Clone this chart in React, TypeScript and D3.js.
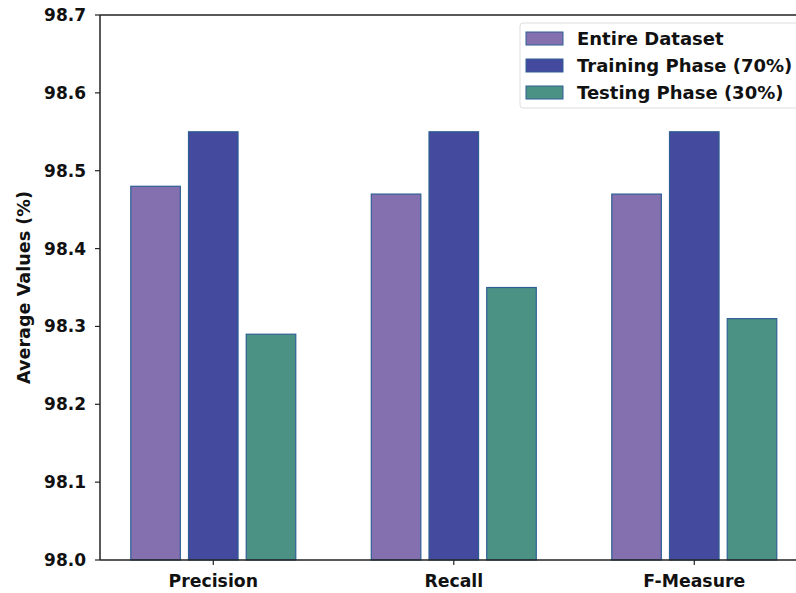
import React from "react";
import * as d3 from "d3";

const categories = ["Precision", "Recall", "F-Measure"];
const seriesNames = ["Entire Dataset", "Training Phase (70%)", "Testing Phase (30%)"];
const entireDataset = [98.48, 98.47, 98.47];
const trainingPhase = [98.55, 98.55, 98.55];
const testingPhase = [98.29, 98.35, 98.31];
const yTicks = [98.0, 98.1, 98.2, 98.3, 98.4, 98.5, 98.6, 98.7];

const colors = ["#8470AF", "#444A9E", "#4C9284"];
const edgeColor = "#2E5F94";

const W = 796;
const H = 593;
const left = 100;
const top = 15;
const bottom = 560;
const font = "'DejaVu Sans', sans-serif";

export default function App() {
  const series = [entireDataset, trainingPhase, testingPhase];
  const x = d3.scaleLinear().domain([-0.471, 2.477]).range([left, 809]);
  const y = d3.scaleLinear().domain([98.0, 98.7]).range([bottom, top]);
  const barWidth = 0.206;
  const offset = 0.24;

  return (
    <svg
      width={W}
      height={H}
      style={{ position: "absolute", left: 0, top: 0, background: "#fff" }}
      fontFamily={font}
    >
      {/* bars */}
      {series.map((vals, s) =>
        vals.map((v, i) => {
          const cx = i + (s - 1) * offset;
          const x0 = x(cx - barWidth / 2);
          const x1 = x(cx + barWidth / 2);
          return (
            <rect
              key={`${s}-${i}`}
              x={x0}
              y={y(v)}
              width={x1 - x0}
              height={bottom - y(v)}
              fill={colors[s]}
              stroke={edgeColor}
              strokeWidth={1.2}
            />
          );
        })
      )}

      {/* axes frame */}
      <line x1={left} x2={W + 20} y1={top} y2={top} stroke="#222" strokeWidth={1.5} />
      <line x1={left} x2={W + 20} y1={bottom} y2={bottom} stroke="#222" strokeWidth={1.5} />
      <line x1={left} x2={left} y1={top} y2={bottom} stroke="#222" strokeWidth={1.5} />

      {/* y ticks */}
      {yTicks.map((t) => (
        <g key={t}>
          <line x1={left - 5} x2={left} y1={y(t)} y2={y(t)} stroke="#222" strokeWidth={1.2} />
          <text
            x={left - 14}
            y={y(t)}
            textAnchor="end"
            dominantBaseline="central"
            fontSize={17}
            fontWeight="bold"
            fill="#111"
          >
            {t.toFixed(1)}
          </text>
        </g>
      ))}

      {/* x ticks */}
      {categories.map((c, i) => (
        <g key={c}>
          <line x1={x(i)} x2={x(i)} y1={bottom} y2={bottom + 5} stroke="#222" strokeWidth={1.2} />
          <text
            x={x(i)}
            y={bottom + 27}
            textAnchor="middle"
            fontSize={17.3}
            fontWeight="bold"
            fill="#111"
          >
            {c}
          </text>
        </g>
      ))}

      {/* y axis label */}
      <text
        transform={`translate(30, ${(top + bottom) / 2}) rotate(-90)`}
        textAnchor="middle"
        fontSize={17.6}
        fontWeight="bold"
        fill="#111"
      >
        Average Values (%)
      </text>

      {/* legend */}
      <rect
        x={520}
        y={23}
        width={300}
        height={85}
        rx={3}
        fill="#fff"
        fillOpacity={0.85}
        stroke="#ddd"
        strokeWidth={1}
      />
      {seriesNames.map((n, s) => (
        <g key={n}>
          <rect
            x={526}
            y={32 + s * 27}
            width={37}
            height={13}
            fill={colors[s]}
            stroke={edgeColor}
            strokeWidth={1}
          />
          <text
            x={577}
            y={38.5 + s * 27}
            dominantBaseline="central"
            fontSize={18}
            fontWeight="bold"
            fill="#111"
          >
            {n}
          </text>
        </g>
      ))}
    </svg>
  );
}
